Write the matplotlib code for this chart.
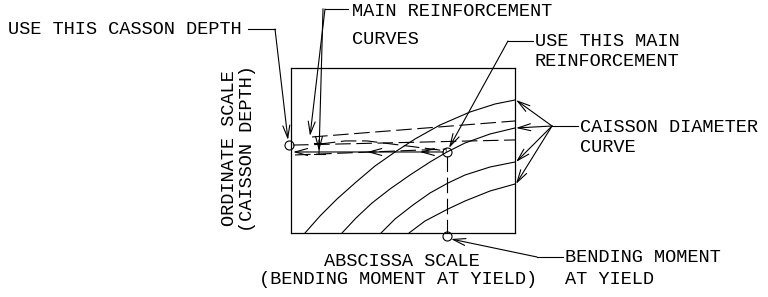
import matplotlib
matplotlib.use("Agg")
import matplotlib.pyplot as plt

# ---- data (abscissa: bending moment 0-100, ordinate: caisson depth 0-100) ----
c1_x = [6.25, 12.95, 20.54, 28.57, 37.5, 46.43, 55.36, 66.52, 79.91, 91.07, 100]
c1_y = [0, 10.30, 20.61, 30.30, 40.61, 49.09, 56.97, 65.45, 73.33, 78.18, 80.61]
c2_x = [22.77, 29.02, 36.16, 44.2, 53.13, 62.05, 69.64, 77.68, 88.84, 100]
c2_y = [0, 9.09, 18.18, 26.67, 35.15, 43.03, 49.09, 54.55, 60.0, 63.64]
c3_x = [40.18, 46.43, 54.46, 62.05, 70.09, 77.68, 88.84, 100]
c3_y = [0, 8.48, 16.97, 24.24, 30.30, 35.15, 40.0, 43.03]
c4_x = [52.68, 59.82, 70.09, 77.68, 88.84, 100]
c4_y = [0, 7.27, 14.55, 19.39, 25.45, 29.70]

d1_x = [9.4, 100]
d1_y = [58.2, 67.9]
d2_x = [0.9, 100]
d2_y = [53.3, 56.4]
d3_x = [12.9, 24.1, 33.9, 48.7, 69.6]
d3_y = [53.9, 55.8, 55.8, 53.3, 49.7]
d4_x = [1.8, 69.6]
d4_y = [47.3, 50.9]

point_x = 69.6          # chosen bending moment / intersection
point_y = 49.1          # depth at intersection
depth_circle = (-0.9, 53.3)
moment_circle = (69.6, -1.8)
line_end_x = 0.9
chevrons_x = [34.0, 57.5]

W, H = 768, 297
fig = plt.figure(figsize=(W / 100, H / 100), dpi=100)
fig.patch.set_facecolor("white")

# overlay in pixel coordinates for texts and leaders
ov = fig.add_axes([0, 0, 1, 1])
ov.set_xlim(0, W)
ov.set_ylim(H, 0)
ov.axis("off")

# chart box
bl, br, bt, bb = 291, 515, 68, 233
ax = fig.add_axes([bl / W, 1 - bb / H, (br - bl) / W, (bb - bt) / H])
ax.set_xlim(0, 100)
ax.set_ylim(0, 100)
ax.set_xticks([])
ax.set_yticks([])
ax.patch.set_alpha(0)
for s in ax.spines.values():
    s.set_linewidth(0.9)
    s.set_color("black")

lw = 0.8
kw = dict(color="black", lw=lw, clip_on=False, solid_joinstyle="round",
          solid_capstyle="round")
dash = (0, (14, 5))
for xs, ys in [(c1_x, c1_y), (c2_x, c2_y), (c3_x, c3_y), (c4_x, c4_y)]:
    ax.plot(xs, ys, **kw)
for xs, ys in [(d1_x, d1_y), (d2_x, d2_y), (d3_x, d3_y), (d4_x, d4_y)]:
    ax.plot(xs, ys, ls=dash, **kw)
ax.plot([point_x, point_x], [point_y - 2.5, 0], ls=dash, **kw)

# circles
for cx, cy in [depth_circle, (point_x, point_y), moment_circle]:
    ax.plot([cx], [cy], marker="o", ms=6.5, mfc="none", mec="black", mew=0.8,
            clip_on=False, ls="none")

arrow = dict(arrowstyle="->,head_length=0.9,head_width=0.25", color="black",
             lw=lw, shrinkA=0, shrinkB=0, mutation_scale=10)

# horizontal transfer line with arrows
ax.annotate("", xy=(line_end_x, point_y), xytext=(point_x - 1.5, point_y),
            arrowprops=arrow, annotation_clip=False)
for cxv in chevrons_x:
    ax.annotate("", xy=(cxv, point_y), xytext=(cxv + 4, point_y),
                arrowprops=arrow, annotation_clip=False)

font = dict(family=["Liberation Mono", "DejaVu Sans Mono"], fontsize=13.4,
            color="black")

def seg(pts):
    xs, ys = zip(*pts)
    ov.plot(xs, ys, color="black", lw=lw)

def lead(p0, target):
    ov.annotate("", xy=target, xycoords="data", xytext=p0, textcoords="data",
                arrowprops=arrow, annotation_clip=False)

# USE THIS CASSON DEPTH
ov.text(8, 30, "USE THIS CASSON DEPTH", ha="left", va="center", **font)
seg([(248, 29), (275, 29)])
lead((275, 29), (288, 140))

# MAIN REINFORCEMENT CURVES
ov.text(352, 11, "MAIN REINFORCEMENT", ha="left", va="center", **font)
ov.text(352, 39, "CURVES", ha="left", va="center", **font)
seg([(348, 9), (325, 9)])
lead((325, 9), (310, 136))
seg([(323, 9), (319, 154)])
lead((319, 140), (319, 151))
seg([(314, 143), (325, 143)])
seg([(314, 154), (325, 154)])

# USE THIS MAIN REINFORCEMENT
ov.text(535, 41, "USE THIS MAIN", ha="left", va="center", **font)
ov.text(535, 61, "REINFORCEMENT", ha="left", va="center", **font)
seg([(533, 41), (508, 41)])
lead((508, 41), (449, 148))

# CAISSON DIAMETER CURVE
ov.text(580, 127, "CAISSON DIAMETER", ha="left", va="center", **font)
ov.text(580, 148, "CURVE", ha="left", va="center", **font)
seg([(578, 126), (552, 126)])
for ty in [100, 128, 162, 184]:
    lead((552, 126), (516, ty))

# BENDING MOMENT AT YIELD
ov.text(565, 257, "BENDING MOMENT", ha="left", va="center", **font)
ov.text(565, 279, "AT YIELD", ha="left", va="center", **font)
seg([(563, 257), (537, 257)])
lead((537, 257), (451, 239))

# axis titles
ov.text(402, 262, "ABSCISSA SCALE", ha="center", va="center", **font)
ov.text(398, 280, "(BENDING MOMENT AT YIELD)", ha="center", va="center", **font)
ov.text(230, 148.5, "ORDINATE SCALE", ha="center", va="center", rotation=90, **font)
ov.text(248, 148.5, "(CAISSON DEPTH)", ha="center", va="center", rotation=90, **font)

fig.savefig("out.png", dpi=100, facecolor="white")
